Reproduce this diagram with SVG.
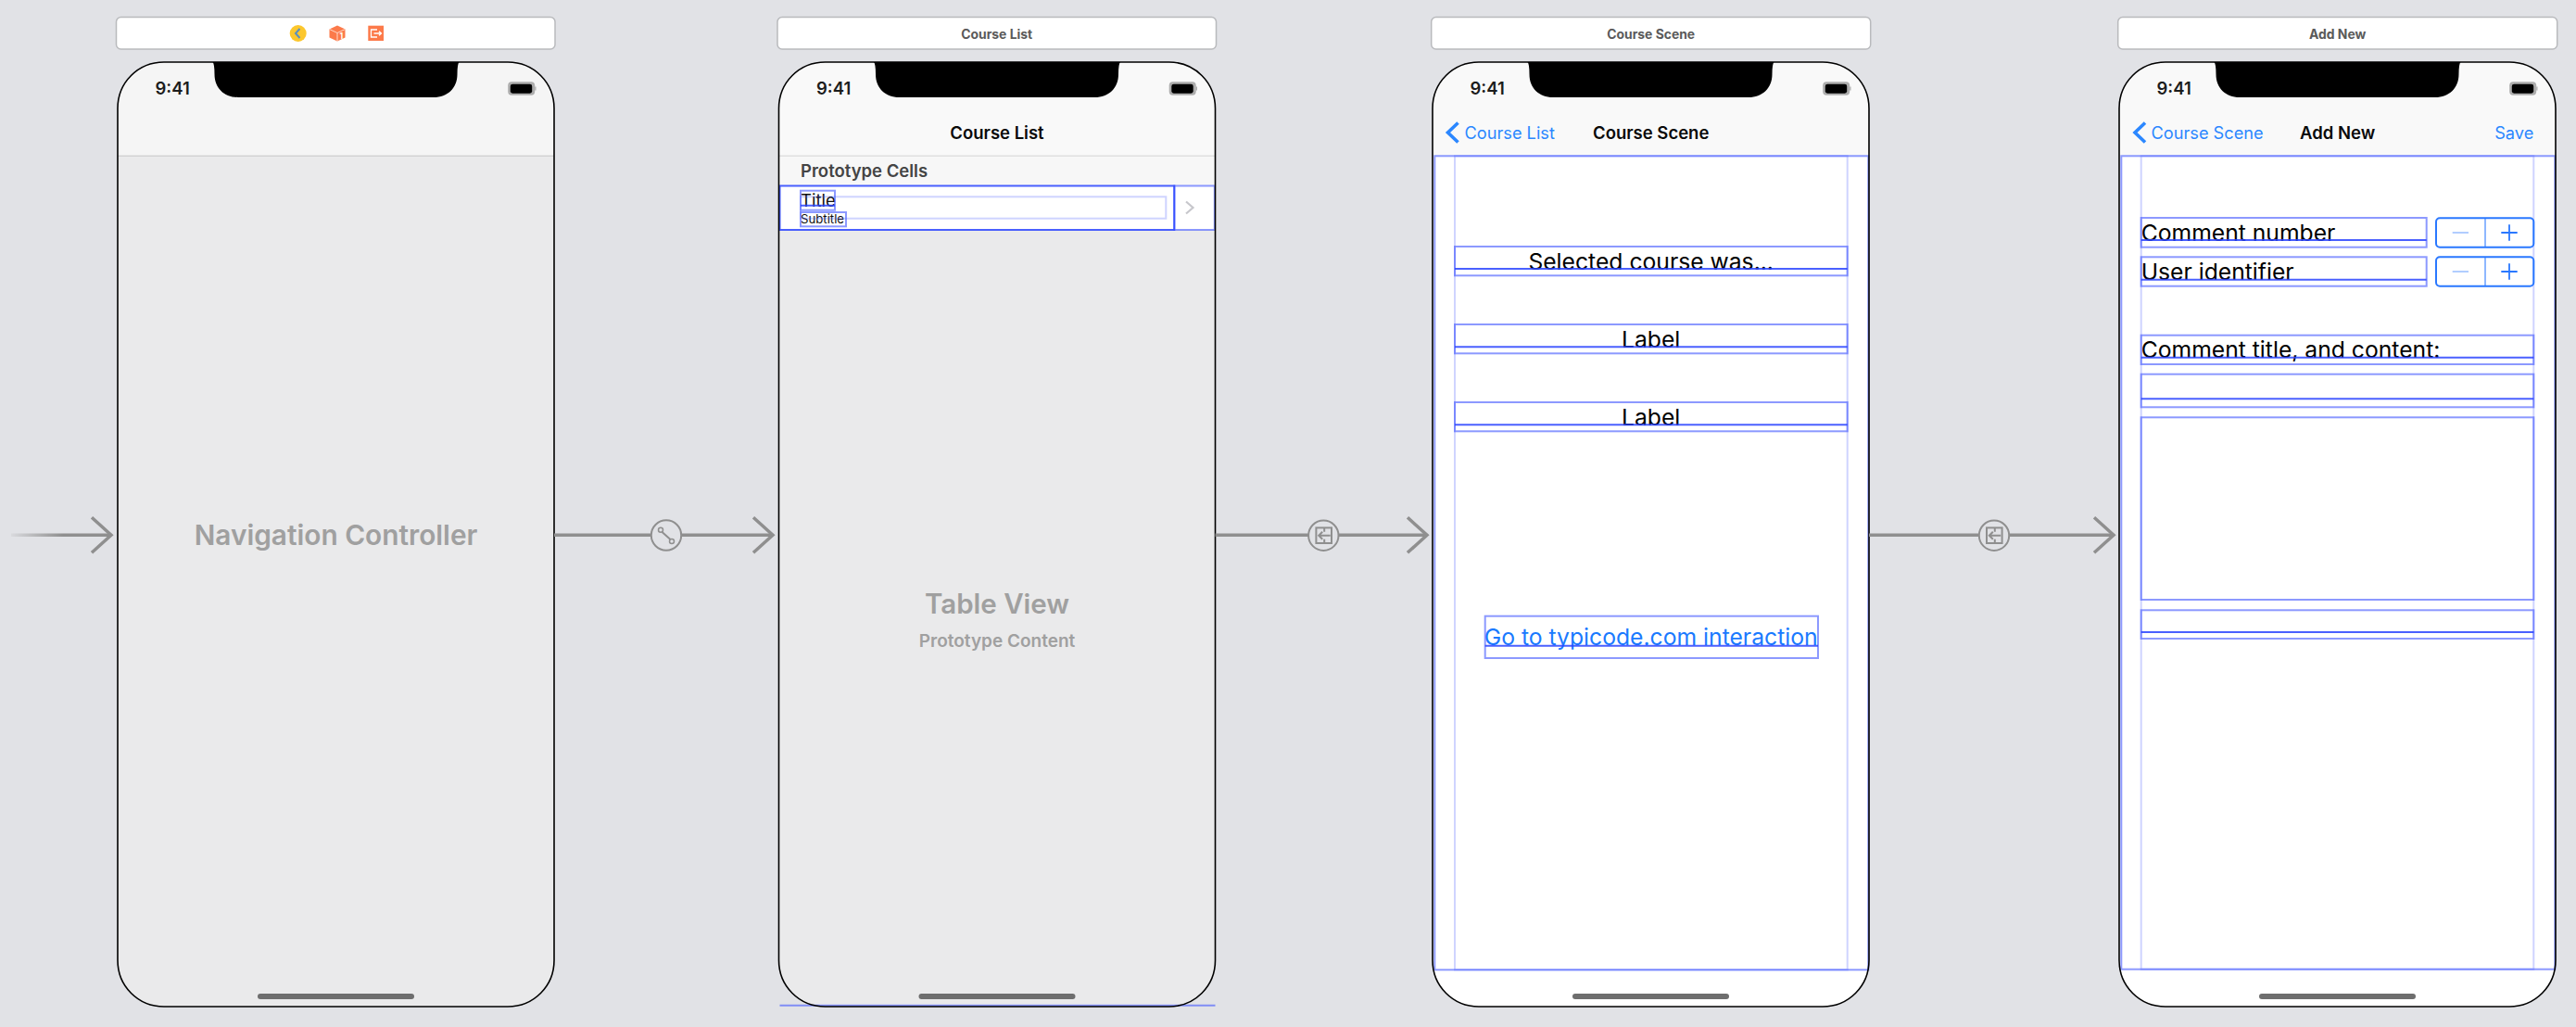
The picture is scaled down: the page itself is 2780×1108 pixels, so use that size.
<svg xmlns="http://www.w3.org/2000/svg" width="2780" height="1108" viewBox="0 0 2780 1108">
<style>
text{font-family:Inter,"Noto Sans","Liberation Sans",sans-serif}
.bar{fill:#fff;stroke:#b9babd;stroke-width:1.5}
.bt{font-size:13.9px;font-weight:700;fill:#5a5a5a;text-anchor:middle}
.time{font-size:18.5px;font-weight:600;fill:#1c1c1c}
.nt{font-size:18.5px;font-weight:600;fill:#0a0a0a;text-anchor:middle}
.nb{font-size:18.2px;fill:#2b87ff}
.ph{fill:#a0a0a0;font-weight:600;text-anchor:middle}
.lb{font-size:24.7px;fill:#000}
.shell{fill:none;stroke:#000;stroke-width:1.6}
.m{fill:none;stroke:#3f55ff;stroke-width:2;opacity:.6}
.l{fill:none;stroke:#3f55ff;stroke-width:2;opacity:.25}
.s{fill:none;stroke:#2a44ff;stroke-width:2;opacity:.85}
.conn{fill:none;stroke:#8f8f8f;stroke-width:3.5}
.ic{fill:#e1e2e6;stroke:#8f8f8f;stroke-width:2}
.ig{fill:none;stroke:#8f8f8f;stroke-width:2}
.chev{fill:none;stroke:#2b87ff;stroke-width:3.6}
.step{fill:none;stroke:#2a78ff;stroke-width:2}
</style>
<defs>
<path id="shape" d="M50,67H421C449,67 471,89 471,117V1036C471,1064 449,1086 421,1086H50C22,1086 0,1064 0,1036V117C0,89 22,67 50,67Z"/>
<clipPath id="clip"><use href="#shape"/></clipPath>
<g id="chrome">
<path d="M102.500,67H368.500Q366.500,69 366.500,80C366.500,95 356,105 341,105H130C115,105 104.500,95 104.500,80Q104.500,69 102.500,67Z" fill="#000"/>
<rect x="421.200" y="88.300" width="29" height="14.400" rx="4" fill="#adadad"/>
<rect x="423.800" y="90.700" width="23.400" height="10" rx="2.400" fill="#000"/>
<rect x="450.200" y="93.500" width="1.300" height="4" fill="#adadad"/>
<rect x="151" y="1072" width="169" height="6" rx="3" fill="#6e6e6e"/>
</g>
<marker id="head" markerUnits="userSpaceOnUse" markerWidth="40" markerHeight="50" refX="29" refY="25" orient="auto" overflow="visible"><path d="M8,6L29,25L8,44" fill="none" stroke="#8f8f8f" stroke-width="3.500"/></marker>
<linearGradient id="fade" gradientUnits="userSpaceOnUse" x1="12" y1="0" x2="68" y2="0"><stop offset="0" stop-color="#8f8f8f" stop-opacity=".1"/><stop offset="1" stop-color="#8f8f8f"/></linearGradient>
<g id="show"><rect x="-8.300" y="-8.300" width="16.600" height="16.600" class="ig"/><path d="M0.500,-8V-4M0.500,4V8M7,0H-5.500M-1.500,-4L-5.500,0L-1.500,4" class="ig"/></g>
</defs>
<rect width="2780" height="1108" fill="#e1e2e6"/>

<g id="navigation-controller">
<rect x="125.500" y="18.500" width="473.500" height="34.500" rx="5" class="bar"/>
<circle cx="321.700" cy="36" r="9" fill="#fcc72d"/><path d="M323.500,31L319,36L323.500,41" fill="none" stroke="#5a90c0" stroke-width="2"/>
<path d="M364,27.500L372.500,31.500V40.500L364,44.500L355.500,40.500V31.500Z" fill="#fc7a4a"/><path d="M355.500,31.500L364,35.500L372.500,31.500M364,35.500V44.500" fill="none" stroke="#ffd9c9" stroke-width="1"/><text x="368.300" y="42" font-size="8.500" font-weight="700" fill="#fff" text-anchor="middle">1</text>
<rect x="397.300" y="27.700" width="16.700" height="16.300" fill="#fc7a4a"/><path d="M407,32H400.500V40H407M403.500,36H411.500M409,33.700L411.500,36L409,38.300" fill="none" stroke="#fff" stroke-width="1.300"/>
<g transform="translate(127,0)">
<use href="#shape" fill="#eaeaeb"/>
<g clip-path="url(#clip)"><rect y="60" width="471" height="108" fill="#f5f5f5"/><rect y="167.500" width="471" height="1.500" fill="#d3d3d3"/></g>
<use href="#chrome"/><use href="#shape" class="shell"/>
<text x="40.500" y="102.300" class="time">9:41</text>
<text x="235.500" y="587.700" class="ph" font-size="29.800">Navigation Controller</text>
</g></g>

<g id="course-list">
<rect x="839" y="18.500" width="473.500" height="34.500" rx="5" class="bar"/>
<text x="1075.700" y="41.700" class="bt">Course List</text>
<g transform="translate(840.500,0)">
<use href="#shape" fill="#eaeaeb"/>
<g clip-path="url(#clip)"><rect y="60" width="471" height="108" fill="#f9f9f9"/><rect y="168" width="471" height="32" fill="#f7f7f7"/><rect y="167.500" width="471" height="1.500" fill="#e0e0e0"/><rect y="200" width="471" height="48" fill="#fff"/></g>
<use href="#chrome"/>
<text x="40.500" y="102.300" class="time">9:41</text>
<text x="235.500" y="149.500" class="nt">Course List</text>
<text x="23.500" y="191" font-size="18.500" font-weight="600" fill="#444">Prototype Cells</text>
<text x="23.500" y="222.700" font-size="18.500" fill="#111">Title</text>
<text x="23.500" y="241" font-size="13.200" fill="#111">Subtitle</text>
<path d="M439.500,217.500L447,224L439.500,230.500" fill="none" stroke="#c7c7cc" stroke-width="2.200"/>
<text x="235.500" y="661.700" class="ph" font-size="29.500">Table View</text>
<text x="235.500" y="697.700" class="ph" font-size="19">Prototype Content</text>
<rect x="23.500" y="212.300" width="394.300" height="23.400" class="l"/>
<rect x="23.500" y="229" width="49" height="15.300" class="m"/>
<rect x="23.500" y="205.700" width="37" height="21" class="m"/>
<path d="M23.500,221.700H60.500" class="s"/>
<rect x="426.800" y="200.500" width="43.500" height="47.500" class="m"/>
<rect x="1" y="200.500" width="425.800" height="47.500" class="s"/>
<path d="M1,1084.700H471" class="m" opacity=".45"/>
<use href="#shape" class="shell"/>
</g></g>

<g id="course-scene">
<rect x="1544.700" y="18.500" width="474" height="34.500" rx="5" class="bar"/>
<text x="1781.700" y="41.700" class="bt">Course Scene</text>
<g transform="translate(1546,0)">
<use href="#shape" fill="#fff"/>
<g clip-path="url(#clip)"><rect y="60" width="471" height="108" fill="#f9f9f9"/></g>
<use href="#chrome"/>
<text x="40.500" y="102.300" class="time">9:41</text>
<path d="M27.500,132.500L16.500,143L27.500,153.500" class="chev"/>
<text x="34.500" y="149.500" class="nb">Course List</text>
<text x="235.700" y="149.500" class="nt">Course Scene</text>
<text x="235.700" y="291" class="lb" text-anchor="middle">Selected course was...</text>
<text x="235.700" y="375" class="lb" text-anchor="middle">Label</text>
<text x="235.700" y="459" class="lb" text-anchor="middle">Label</text>
<text x="235.700" y="696" class="lb" text-anchor="middle" style="fill:#1a7aff">Go to typicode.com interaction</text>
<rect x="24" y="168.300" width="423.700" height="878" class="l"/>
<rect x="24" y="266" width="423.700" height="31.300" class="m"/><path d="M24,290H447.700" class="s"/>
<rect x="24" y="350" width="423.700" height="31.300" class="m"/><path d="M24,374.300H447.700" class="s"/>
<rect x="24" y="434" width="423.700" height="31.300" class="m"/><path d="M24,458.300H447.700" class="s"/>
<rect x="56.700" y="664.700" width="359.300" height="45.300" class="m"/><path d="M56.700,696.700H416" class="s"/>
<rect x="2.300" y="168.300" width="468" height="878" class="m"/>
<use href="#shape" class="shell"/>
</g></g>

<g id="add-new">
<rect x="2285.700" y="18.500" width="474" height="34.500" rx="5" class="bar"/>
<text x="2522.700" y="41.700" class="bt">Add New</text>
<g transform="translate(2287,0)">
<use href="#shape" fill="#fff"/>
<g clip-path="url(#clip)"><rect y="60" width="471" height="108" fill="#f9f9f9"/></g>
<use href="#chrome"/>
<text x="40.500" y="102.300" class="time">9:41</text>
<path d="M28,132.500L17,143L28,153.500" class="chev"/>
<text x="34.500" y="149.500" class="nb">Course Scene</text>
<text x="235.700" y="149.500" class="nt">Add New</text>
<text x="447.300" y="149.500" class="nb" text-anchor="end">Save</text>
<text x="23.700" y="260" class="lb">Comment number</text>
<text x="23.700" y="302" class="lb">User identifier</text>
<text x="23.700" y="386.300" class="lb">Comment title, and content:</text>
<rect x="23.700" y="168.300" width="423.600" height="877.400" class="l"/>
<rect x="23.700" y="235" width="308" height="31.700" class="m"/><path d="M23.700,259H331.700" class="s"/>
<rect x="23.700" y="277.300" width="308" height="31.400" class="m"/><path d="M23.700,301.700H331.700" class="s"/>
<rect x="342" y="235.300" width="105.300" height="31.400" rx="4" class="step"/>
<path d="M395,235.300V266.700" stroke="#2a78ff" stroke-width="1.500" opacity=".7"/>
<path d="M359.700,251H377" stroke="#2a78ff" stroke-width="1.800" opacity=".4"/>
<path d="M412.300,251H429.700M421,242.300V259.700" stroke="#2a78ff" stroke-width="1.800"/>
<rect x="342" y="277.300" width="105.300" height="31.400" rx="4" class="step"/>
<path d="M395,277.300V308.700" stroke="#2a78ff" stroke-width="1.500" opacity=".7"/>
<path d="M359.700,293H377" stroke="#2a78ff" stroke-width="1.800" opacity=".4"/>
<path d="M412.300,293H429.700M421,284.300V301.700" stroke="#2a78ff" stroke-width="1.800"/>
<rect x="23.700" y="361.700" width="423.600" height="31.300" class="m"/><path d="M23.700,385.700H447.300" class="s"/>
<rect x="23.700" y="403.700" width="423.600" height="35.600" class="m"/><path d="M23.700,430.300H447.300" class="s"/>
<rect x="23.700" y="450.300" width="423.600" height="196.700" class="m"/>
<rect x="23.700" y="658.300" width="423.600" height="30.700" class="m"/><path d="M23.700,682H447.300" class="s"/>
<rect x="2.300" y="168.300" width="468" height="877.400" class="m"/>
<use href="#shape" class="shell"/>
</g></g>

<g id="connectors">
<path d="M12,577.300H120" fill="none" stroke="url(#fade)" stroke-width="3.500" marker-end="url(#head)"/>
<path d="M598,577.300H834" class="conn" marker-end="url(#head)"/>
<path d="M1311.500,577.300H1540" class="conn" marker-end="url(#head)"/>
<path d="M2017,577.300H2281" class="conn" marker-end="url(#head)"/>
<g><circle cx="719" cy="577.500" r="16.200" class="ic"/><path d="M714.500,574L723.500,582" class="ig" stroke-width="1.500"/><circle cx="713" cy="571.700" r="2.500" fill="#e1e2e6" stroke="#8f8f8f" stroke-width="1.500"/><circle cx="725" cy="584" r="2.500" fill="#e1e2e6" stroke="#8f8f8f" stroke-width="1.500"/></g>
<g><circle cx="1428.300" cy="577.700" r="16.200" class="ic"/><use href="#show" x="1428.700" y="577.700"/></g>
<g><circle cx="2152" cy="577.700" r="16.200" class="ic"/><use href="#show" x="2152.300" y="577.700"/></g>
</g>
</svg>
